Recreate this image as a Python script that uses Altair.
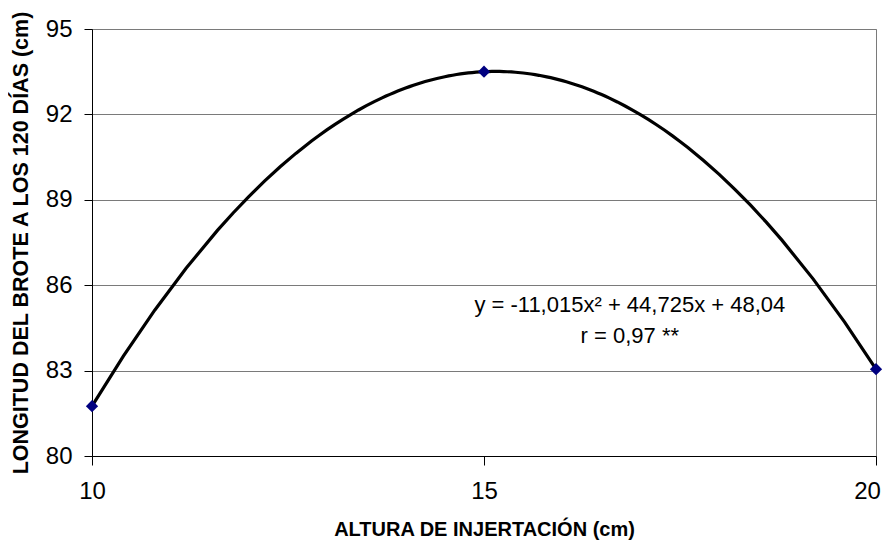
import altair as alt
import pandas as pd

# Data
altura = [10, 15, 20]
longitud = [81.75, 93.5, 83.05]

y_ticks = [80, 83, 86, 89, 92, 95]
x_ticks = [10, 15, 20]

ann_text = ["y = -11,015x\u00b2 + 44,725x + 48,04", "r  = 0,97 **"]
ann_x = [16.86, 16.86]
ann_y = [85.3, 84.21]

df = pd.DataFrame({"x": altura, "y": longitud})
ann = pd.DataFrame({"x": ann_x, "y": ann_y, "t": ann_text})

FONT = "Liberation Sans"

xs = alt.Scale(domain=[10, 20], nice=False, zero=False)
ys = alt.Scale(domain=[80, 95], nice=False, zero=False)

# Polynomial (order 2) trendline, computed by Vega-Lite from the data
line = alt.Chart(df).transform_regression(
    "x", "y", method="poly", order=2, extent=[10, 20]
).mark_line(color="black", strokeWidth=3.2).encode(
    x=alt.X("x:Q", scale=xs, axis=alt.Axis(
        values=x_ticks, format="d", title="ALTURA DE INJERTACIÓN (cm)", grid=False,
        domainColor="black", tickColor="black", tickSize=9, labelFlush=False,
        labelOffset={"condition": {"test": "datum.value == 20", "value": -9}, "value": 0},
        labelFontSize=24, labelPadding=14, labelColor="black", labelFont=FONT,
        titleFont=FONT, titleFontSize=20, titleFontWeight="bold", titleColor="black",
        titlePadding=16)),
    y=alt.Y("y:Q", scale=ys, axis=alt.Axis(
        values=y_ticks, format="d", title="LONGITUD DEL BROTE A LOS 120 DÍAS (cm)",
        grid=True, gridColor="#7a7a7a", gridWidth=1, labelFlush=False,
        domainColor="black", tickColor="black", tickSize=8,
        labelFontSize=24, labelPadding=12, labelColor="black", labelFont=FONT,
        titleFont=FONT, titleFontSize=21.5, titleFontWeight="bold", titleColor="black",
        titlePadding=13)),
)

pts = alt.Chart(df).mark_point(
    shape="diamond", filled=True, color="#000080", size=150, opacity=1
).encode(x=alt.X("x:Q", scale=xs), y=alt.Y("y:Q", scale=ys))

txt = alt.Chart(ann).mark_text(
    font=FONT, fontSize=22, color="black", align="center", baseline="middle"
).encode(x=alt.X("x:Q", scale=xs), y=alt.Y("y:Q", scale=ys), text="t:N")

chart = alt.layer(line, pts, txt).properties(
    width=784, height=427,
    autosize=alt.AutoSizeParams(type="none"),
    padding={"left": 84, "top": 21, "right": 8, "bottom": 84},
    background="white",
).configure_view(stroke="#7a7a7a", strokeWidth=1)

chart.save("out.html", embed_options={"renderer": "svg", "actions": False})
